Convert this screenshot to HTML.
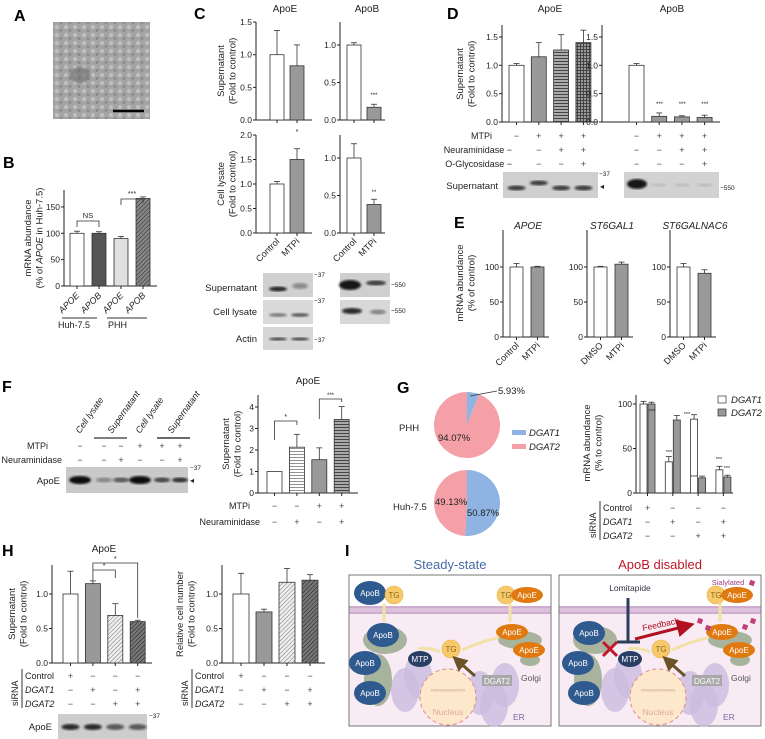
<!DOCTYPE html>
<html><head><meta charset="utf-8">
<style>
body{margin:0;background:#fff}
svg{display:block;font-family:"Liberation Sans",sans-serif}
</style></head><body>
<svg id="fig" width="765" height="739" viewBox="0 0 765 739" xmlns="http://www.w3.org/2000/svg">
<defs>
<pattern id="dots" width="2" height="2" patternUnits="userSpaceOnUse"><rect width="2" height="2" fill="#f0f0f0"/><circle cx="1" cy="1" r="0.5" fill="#999"/></pattern>
<pattern id="hdark" width="3" height="3" patternUnits="userSpaceOnUse" patternTransform="rotate(45)"><rect width="3" height="3" fill="#888"/><line x1="0" y1="0" x2="0" y2="3" stroke="#333" stroke-width="1.2"/></pattern>
<pattern id="hlines" width="4" height="3" patternUnits="userSpaceOnUse"><rect width="4" height="3" fill="#fff"/><line x1="0" y1="1.5" x2="4" y2="1.5" stroke="#888" stroke-width="0.9"/></pattern>
<pattern id="hlinesDark" width="4" height="3" patternUnits="userSpaceOnUse"><rect width="4" height="3" fill="#aaa"/><line x1="0" y1="1.5" x2="4" y2="1.5" stroke="#444" stroke-width="1"/></pattern>
<pattern id="grid" width="3" height="3" patternUnits="userSpaceOnUse"><rect width="3" height="3" fill="#999"/><path d="M0 1.5H3M1.5 0V3" stroke="#333" stroke-width="0.8"/></pattern>
<pattern id="diagLight" width="3" height="3" patternUnits="userSpaceOnUse" patternTransform="rotate(45)"><rect width="3" height="3" fill="#eee"/><line x1="0" y1="0" x2="0" y2="3" stroke="#777" stroke-width="1"/></pattern>
<pattern id="diagDark" width="3" height="3" patternUnits="userSpaceOnUse" patternTransform="rotate(45)"><rect width="3" height="3" fill="#777"/><line x1="0" y1="0" x2="0" y2="3" stroke="#222" stroke-width="1.1"/></pattern>
<pattern id="cells" width="9" height="8" patternUnits="userSpaceOnUse"><rect width="9" height="8" fill="#a4a4a4"/><circle cx="3" cy="3" r="2" fill="#c0c0c0"/><circle cx="7" cy="6.5" r="1.5" fill="#8a8a8a"/></pattern>
<filter id="blur"><feGaussianBlur stdDeviation="1.1"/></filter>
<marker id="arrRed" markerWidth="6" markerHeight="6" refX="3" refY="3" orient="auto"><path d="M0 0L6 3L0 6Z" fill="#b01020"/></marker>
<marker id="arrBrown" markerWidth="5" markerHeight="5" refX="2.5" refY="2.5" orient="auto"><path d="M0 0L5 2.5L0 5Z" fill="#6b5326"/></marker>
</defs>

<g font-weight="bold" font-size="16" fill="#000">
<text x="14" y="21">A</text>
<text x="3" y="168">B</text>
<text x="194" y="19">C</text>
<text x="447" y="19">D</text>
<text x="454" y="228">E</text>
<text x="2" y="392">F</text>
<text x="397" y="393">G</text>
<text x="2" y="556">H</text>
<text x="345" y="556">I</text>
</g>

<rect x="53" y="22" width="97" height="97" fill="url(#cells)"/>
<ellipse cx="80" cy="75" rx="10" ry="8" fill="#707070" opacity="0.6" filter="url(#blur)"/>
<line x1="113" y1="111" x2="144" y2="111" stroke="#000" stroke-width="2.5"/>

<g id="charts" font-size="9" fill="#222"></g>
<g id="panelI"></g>
</svg>

<script>
// ---------- data ----------
const bCats = ["APOE","APOB","APOE","APOB"];
const bVals = [100, 100, 90, 166];
const bErrs = [4, 3, 4, 3];
const bTicks = [0, 50, 100, 150];

const cCats = ["Control","MTPi"];
const cApoESup = [1.0, 0.83];
const cApoESupErr = [0.37, 0.32];
const cApoBSup = [1.0, 0.17];
const cApoBSupErr = [0.03, 0.04];
const cApoELys = [1.0, 1.5];
const cApoELysErr = [0.05, 0.22];
const cApoBLys = [1.0, 0.38];
const cApoBLysErr = [0.19, 0.07];
const cTicksSupE = [0, 0.5, 1.0, 1.5];
const cTicksB = [0, 0.5, 1.0];
const cTicksLysE = [0, 0.5, 1.0, 1.5, 2.0];

const dApoE = [1.0, 1.15, 1.27, 1.4];
const dApoEErr = [0.03, 0.25, 0.27, 0.22];
const dApoB = [1.0, 0.10, 0.09, 0.08];
const dApoBErr = [0.03, 0.06, 0.02, 0.04];
const dTicks = [0, 0.5, 1.0, 1.5];
const dMTPi = ["−","+","+","+"];
const dNeur = ["−","−","+","+"];
const dOGly = ["−","−","−","+"];

const eTitles = ["APOE","ST6GAL1","ST6GALNAC6"];
const eCats = [["Control","MTPi"],["DMSO","MTPi"],["DMSO","MTPi"]];
const eVals = [[100, 100],[100, 104],[100, 91]];
const eErrs = [[5, 1],[1, 3],[5, 5]];
const eTicks = [0, 50, 100];

const fVals = [1.0, 2.13, 1.55, 3.42];
const fErrs = [0.0, 0.6, 0.55, 0.6];
const fTicks = [0, 1, 2, 3, 4];
const fMTPi = ["−","−","+","+"];
const fNeur = ["−","+","−","+"];
const fBlotMTPi = ["−","−","−","+","+","+"];
const fBlotNeur = ["−","−","+","−","−","+"];
const fBandIntensity = [1.0, 0.35, 0.6, 1.0, 0.7, 0.8];

const gPieLabels = ["DGAT1","DGAT2"];
const gPiePHH = [5.93, 94.07];
const gPieHuh = [50.87, 49.13];
const gDGAT1 = [100, 35, 83, 26];
const gDGAT1Err = [3, 6, 5, 4];
const gDGAT2 = [100, 82, 17, 18];
const gDGAT2Err = [2, 5, 2, 2];
const gTicks = [0, 50, 100];

const hVals = [1.0, 1.15, 0.69, 0.60];
const hErrs = [0.33, 0.04, 0.17, 0.02];
const hCell = [1.0, 0.74, 1.17, 1.20];
const hCellErr = [0.3, 0.04, 0.2, 0.08];
const hTicks = [0, 0.5, 1.0];
const siControl = ["+","−","−","−"];
const siDGAT1 = ["−","+","−","+"];
const siDGAT2 = ["−","−","+","+"];

// ---------- helpers ----------
const NS = "http://www.w3.org/2000/svg";
const root = document.getElementById("charts");
function mk(tag, attrs, name, parent) {
  const e = document.createElementNS(NS, tag);
  for (const k in attrs) e.setAttribute(k, attrs[k]);
  
  
  (parent || root).appendChild(e);
  return e;
}
function txt(x, y, s, name, extra, parent) {
  const a = Object.assign({x: x, y: y}, extra || {});
  const e = mk("text", a, name, parent);
  e.textContent = s;
  return e;
}

function barChart(p) {
  const g = mk("g", {}, p.name);
  const y = v => p.bot - v * p.ppu;
  if (!p.noAxis) {
    mk("line", {x1: p.ax, y1: p.top, x2: p.ax, y2: p.bot, stroke: "#222", "stroke-width": 1}, "y-axis", g);
    mk("line", {x1: p.ax, y1: p.bot, x2: p.xEnd, y2: p.bot, stroke: "#222", "stroke-width": 1}, "x-axis", g);
    p.ticks.forEach((t, i) => {
      mk("line", {x1: p.ax - 3, y1: y(t), x2: p.ax, y2: y(t), stroke: "#222"}, "y-tick", g);
      txt(p.ax - 4, y(t) + 3, p.tickLabels ? p.tickLabels[i] : String(t), "y-tick-label", {"text-anchor": "end", "font-size": 8.5}, g);
    });
  }
  p.vals.forEach((v, i) => {
    const bx = p.x0 + i * p.step;
    const cx = bx + p.w / 2;
    mk("rect", {x: bx, y: y(v), width: p.w, height: v * p.ppu, fill: p.fills[i], stroke: "#333", "stroke-width": 0.8}, "bar-" + (i + 1), g);
    if (p.errs && p.errs[i] > 0) {
      mk("line", {x1: cx, y1: y(v), x2: cx, y2: y(v + p.errs[i]), stroke: "#333", "stroke-width": 0.8}, "error-bar", g);
      mk("line", {x1: cx - 3, y1: y(v + p.errs[i]), x2: cx + 3, y2: y(v + p.errs[i]), stroke: "#333", "stroke-width": 0.8}, "error-cap", g);
    }
    if (!p.noTicks) mk("line", {x1: (p.tickAt ? p.tickAt(i) : cx), y1: p.bot, x2: (p.tickAt ? p.tickAt(i) : cx), y2: p.bot + 3, stroke: "#222"}, "x-tick", g);
  });
  return g;
}
function yTitle(cx, cy, lines, name, size) {
  const g = mk("g", {transform: "translate(" + cx + "," + cy + ") rotate(-90)"}, name);
  lines.forEach((l, i) => {
    const t = txt(0, i * 11.5, "", "axis-title-line", {"text-anchor": "middle", "font-size": size || 9.5}, g);
    t.innerHTML = l;
  });
}
function rotLabels(xs, y, labels, name, italic) {
  labels.forEach((l, i) => {
    txt(xs[i] + 3, y, l, name, {"text-anchor": "end", "font-size": 9, transform: "rotate(-45 " + (xs[i] + 3) + " " + y + ")", "font-style": italic ? "italic" : "normal"});
  });
}
function signRow(label, lx, y, xs, signs, name, italic) {
  if (label) txt(lx, y, label, name + "-label", {"text-anchor": "end", "font-size": 9, "font-style": italic ? "italic" : "normal"});
  signs.forEach((s, i) => txt(xs[i], y, s, name + "-sign", {"text-anchor": "middle", "font-size": 9, fill: "#444"}));
}
function siRow(label, lx, y, xs, signs, name) {
  txt(lx, y, label, name + "-label", {"font-size": 9, "font-style": label === "Control" ? "normal" : "italic"});
  signs.forEach((s, i) => txt(xs[i], y, s, name + "-sign", {"text-anchor": "middle", "font-size": 9, fill: "#444"}));
}
function blot(x, y, w, h, name, bg) {
  mk("rect", {x: x, y: y, width: w, height: h, fill: bg || "#d4d4d4"}, name);
}
function band(cx, cy, rx, ry, dark, name) {
  mk("ellipse", {cx: cx, cy: cy, rx: rx, ry: ry, fill: "#111", opacity: dark, filter: "url(#blur)"}, name);
}
function centers(x0, step, w, n){ const a=[]; for(let i=0;i<n;i++) a.push(x0+i*step+w/2); return a; }

// ---------- Panel B ----------
barChart({name: "chart-b", ax: 64, bot: 286, top: 190, ppu: 0.527, ticks: bTicks, xEnd: 157, x0: 70, step: 22, w: 14, vals: bVals, errs: bErrs, fills: ["#fff", "#555", "url(#dots)", "url(#hdark)"]});
yTitle(31, 238, ["mRNA abundance", "(% of <tspan font-style='italic'>APOE</tspan> in Huh-7.5)"], "y-axis-title-b");
rotLabels(centers(70, 22, 14, 4), 296, bCats, "x-label-b", true);
mk("line", {x1: 62, y1: 318, x2: 97, y2: 318, stroke: "#333"}, "group-line-huh");
mk("line", {x1: 107, y1: 318, x2: 147, y2: 318, stroke: "#333"}, "group-line-phh");
txt(58, 328, "Huh-7.5", "group-label-huh", {"font-size": 9});
txt(108, 328, "PHH", "group-label-phh", {"font-size": 9});
mk("path", {d: "M77 227V221H99V227", fill: "none", stroke: "#333", "stroke-width": 0.8}, "bracket-ns");
txt(88, 218, "NS", "sig-ns", {"text-anchor": "middle", "font-size": 7.5});
mk("path", {d: "M121 205V199H143V203", fill: "none", stroke: "#333", "stroke-width": 0.8}, "bracket-b");
txt(132, 196, "***", "sig-b", {"text-anchor": "middle", "font-size": 7});

// ---------- Panel C ----------
txt(285, 12, "ApoE", "title-c-apoe", {"text-anchor": "middle", "font-size": 10});
txt(367, 12, "ApoB", "title-c-apob", {"text-anchor": "middle", "font-size": 10});
barChart({name: "chart-c-apoe-sup", ax: 256, bot: 120, top: 22, ppu: 65.3, ticks: cTicksSupE, tickLabels: ["0.0","0.5","1.0","1.5"], xEnd: 312, x0: 270, step: 20, w: 14, vals: cApoESup, errs: cApoESupErr, fills: ["#fff", "#999"]});
barChart({name: "chart-c-apob-sup", ax: 340, bot: 120, top: 22, ppu: 75, ticks: cTicksB, tickLabels: ["0.0","0.5","1.0"], xEnd: 385, x0: 347, step: 20, w: 14, vals: cApoBSup, errs: cApoBSupErr, fills: ["#fff", "#999"]});
barChart({name: "chart-c-apoe-lys", ax: 256, bot: 233, top: 135, ppu: 49, ticks: cTicksLysE, tickLabels: ["0.0","0.5","1.0","1.5","2.0"], xEnd: 312, x0: 270, step: 20, w: 14, vals: cApoELys, errs: cApoELysErr, fills: ["#fff", "#999"]});
barChart({name: "chart-c-apob-lys", ax: 340, bot: 233, top: 135, ppu: 75, ticks: cTicksB, tickLabels: ["0.0","0.5","1.0"], xEnd: 385, x0: 347, step: 20, w: 14, vals: cApoBLys, errs: cApoBLysErr, fills: ["#fff", "#999"]});
txt(374, 97, "***", "sig-c1", {"text-anchor": "middle", "font-size": 6});
txt(297, 134, "*", "sig-c2", {"text-anchor": "middle", "font-size": 7});
txt(374, 194, "**", "sig-c3", {"text-anchor": "middle", "font-size": 6});
yTitle(224, 71, ["Supernatant", "(Fold to control)"], "y-axis-title-c-sup");
yTitle(224, 184, ["Cell lysate", "(Fold to control)"], "y-axis-title-c-lys");
rotLabels(centers(270, 20, 14, 2), 242, cCats, "x-label-c-apoe");
rotLabels(centers(347, 20, 14, 2), 242, cCats, "x-label-c-apob");
blot(263, 273, 50, 24, "blot-c-apoe-sup", "#d0d0d0");
band(278, 289, 9, 2.5, 0.85, "band"); band(300, 286, 8, 3, 0.35, "band");
blot(263, 300, 50, 24, "blot-c-apoe-lys", "#dadada");
band(278, 315, 9, 2, 0.45, "band"); band(300, 315, 9, 2, 0.6, "band");
blot(263, 327, 50, 23, "blot-c-actin", "#d6d6d6");
band(278, 339, 9, 1.6, 0.7, "band"); band(300, 339, 9, 1.6, 0.7, "band");
blot(340, 273, 50, 24, "blot-c-apob-sup", "#cfcfcf");
band(350, 285, 11, 5, 0.95, "band"); band(376, 283, 10, 2.5, 0.75, "band");
blot(340, 300, 50, 24, "blot-c-apob-lys", "#d8d8d8");
band(352, 311, 10, 3, 0.85, "band"); band(378, 312, 8, 2.5, 0.4, "band");
txt(257, 291, "Supernatant", "blot-label-sup", {"text-anchor": "end", "font-size": 9.5});
txt(257, 315, "Cell lysate", "blot-label-lys", {"text-anchor": "end", "font-size": 9.5});
txt(257, 342, "Actin", "blot-label-actin", {"text-anchor": "end", "font-size": 9.5});
txt(314, 277, "−37", "mw-37", {"font-size": 6.5});
txt(314, 303, "−37", "mw-37", {"font-size": 6.5});
txt(314, 342, "−37", "mw-37", {"font-size": 6.5});
txt(391, 287, "−550", "mw-550", {"font-size": 6.5});
txt(391, 313, "−550", "mw-550", {"font-size": 6.5});

// ---------- Panel D ----------
txt(550, 12, "ApoE", "title-d-apoe", {"text-anchor": "middle", "font-size": 10});
txt(672, 12, "ApoB", "title-d-apob", {"text-anchor": "middle", "font-size": 10});
barChart({name: "chart-d-apoe", ax: 502, bot: 122, top: 25, ppu: 56.7, ticks: dTicks, tickLabels: ["0.0","0.5","1.0","1.5"], xEnd: 598, x0: 509, step: 22.3, w: 15, vals: dApoE, errs: dApoEErr, fills: ["#fff", "#999", "url(#hlinesDark)", "url(#grid)"]});
barChart({name: "chart-d-apob", ax: 602, bot: 122, top: 25, ppu: 56.7, ticks: dTicks, tickLabels: ["0.0","0.5","1.0","1.5"], xEnd: 720, x0: 629, step: 22.7, w: 15, vals: dApoB, errs: dApoBErr, fills: ["#fff", "#999", "#999", "#999"]});
[659.5, 682.2, 704.9].forEach(x => txt(x, 106, "***", "sig-d", {"text-anchor": "middle", "font-size": 6}));
yTitle(463, 74, ["Supernatant", "(Fold to control)"], "y-axis-title-d");
const dXE = centers(509, 22.3, 15, 4), dXB = centers(629, 22.7, 15, 4);
signRow("MTPi", 492, 139, dXE, dMTPi, "row-d-mtpi"); signRow(null, 0, 139, dXB, dMTPi, "row-d-mtpi-b");
signRow("Neuraminidase −", 512, 153, [-99, dXE[1], dXE[2], dXE[3]], ["", dNeur[1], dNeur[2], dNeur[3]], "row-d-neur"); signRow(null, 0, 153, dXB, dNeur, "row-d-neur-b");
signRow("O-Glycosidase −", 512, 167, [-99, dXE[1], dXE[2], dXE[3]], ["", dOGly[1], dOGly[2], dOGly[3]], "row-d-oglyc"); signRow(null, 0, 167, dXB, dOGly, "row-d-oglyc-b");
blot(503, 172, 95, 26, "blot-d-apoe", "#cfcfcf");
dXE.forEach((x, i) => band(x, i === 1 ? 183 : 188, 9, 2.5, 0.75, "band"));
blot(624, 172, 95, 26, "blot-d-apob", "#d2d2d2");
band(637, 184, 10, 5, 0.95, "band");
[659, 682, 705].forEach(x => band(x, 185, 8, 1.5, 0.12, "band"));
txt(498, 189, "Supernatant", "blot-label-d", {"text-anchor": "end", "font-size": 9.5});
txt(599, 176, "−37", "mw-37", {"font-size": 6.5});
txt(600, 189, "◂", "band-arrow", {"font-size": 8});
txt(720, 190, "−550", "mw-550", {"font-size": 6.5});

// ---------- Panel E ----------
const eAx = [503, 587, 670];
eAx.forEach((ax, k) => {
  txt(ax + 25, 229, eTitles[k], "title-e", {"text-anchor": "middle", "font-size": 10, "font-style": "italic"});
  barChart({name: "chart-e-" + (k + 1), ax: ax, bot: 337, top: 230, ppu: 0.7, ticks: eTicks, xEnd: ax + 46, x0: ax + 7, step: 21, w: 13, vals: eVals[k], errs: eErrs[k], fills: ["#fff", "#999"]});
  rotLabels(centers(ax + 7, 21, 13, 2), 346, eCats[k], "x-label-e");
});
yTitle(463, 283, ["mRNA abundance", "(% of control)"], "y-axis-title-e");

// ---------- Panel F ----------
const fCols = [80, 104, 121, 140, 162, 180];
["Cell lysate", "Supernatant", "Cell lysate", "Supernatant"].forEach((l, i) => {
  const x = [80, 112, 140, 172][i];
  txt(x, 434, l, "lane-label-f", {"font-size": 9, "font-style": "italic", transform: "rotate(-55 " + x + " 434)"});
});
mk("line", {x1: 94, y1: 438, x2: 127, y2: 438, stroke: "#333", "stroke-width": 1.2}, "lane-line");
mk("line", {x1: 157, y1: 438, x2: 190, y2: 438, stroke: "#111", "stroke-width": 1.2}, "lane-line");
signRow("MTPi", 48, 449, fCols, fBlotMTPi, "row-f-mtpi");
signRow("Neuraminidase", 62, 463, fCols, fBlotNeur, "row-f-neur");
blot(66, 467, 122, 26, "blot-f", "#c9c9c9");
fCols.forEach((x, i) => band(x, 480, fBandIntensity[i] > 0.9 ? 11 : 8, fBandIntensity[i] > 0.9 ? 4 : 2.5, fBandIntensity[i], "band"));
txt(60, 484, "ApoE", "blot-label-f", {"text-anchor": "end", "font-size": 9.5});
txt(190, 470, "−37", "mw-37", {"font-size": 6.5});
txt(190, 483, "◂", "band-arrow", {"font-size": 8});
txt(308, 384, "ApoE", "title-f", {"text-anchor": "middle", "font-size": 10});
barChart({name: "chart-f", ax: 258, bot: 493, top: 395, ppu: 21.5, ticks: fTicks, xEnd: 358, x0: 267, step: 22.4, w: 15, vals: fVals, errs: fErrs, fills: ["#fff", "url(#hlines)", "#999", "url(#hlinesDark)"]});
yTitle(229, 444, ["Supernatant", "(Fold to control)"], "y-axis-title-f");
const fX = centers(267, 22.4, 15, 4);
signRow("MTPi", 250, 509, fX, fMTPi, "row-f2-mtpi");
signRow("Neuraminidase", 260, 525, fX, fNeur, "row-f2-neur");
mk("path", {d: "M" + fX[0] + " 440V421H" + fX[1] + "V425", fill: "none", stroke: "#333", "stroke-width": 0.8}, "bracket-f1");
txt((fX[0] + fX[1]) / 2, 419, "*", "sig-f1", {"text-anchor": "middle", "font-size": 7});
mk("path", {d: "M" + fX[2] + " 419V399H" + fX[3] + "V402", fill: "none", stroke: "#333", "stroke-width": 0.8}, "bracket-f2");
txt((fX[2] + fX[3]) / 2, 397, "***", "sig-f2", {"text-anchor": "middle", "font-size": 6});

// ---------- Panel G pies ----------
const pieColors = ["#8fb4e3", "#f4a0a6"];
function pie(cx, cy, r, vals, startDeg, name) {
  const g = mk("g", {}, name);
  let a = startDeg;
  const tot = vals.reduce((s, v) => s + v, 0);
  vals.forEach((v, i) => {
    const a2 = a + v / tot * 360;
    const p = d => [cx + r * Math.sin(d * Math.PI / 180), cy - r * Math.cos(d * Math.PI / 180)];
    const s = p(a), e = p(a2);
    mk("path", {d: "M" + cx + " " + cy + "L" + s[0] + " " + s[1] + "A" + r + " " + r + " 0 " + (a2 - a > 180 ? 1 : 0) + " 1 " + e[0] + " " + e[1] + "Z", fill: pieColors[i]}, "slice-" + gPieLabels[i].toLowerCase(), g);
    a = a2;
  });
}
pie(467, 425, 33, gPiePHH, 0, "pie-phh");
pie(467, 503, 33, gPieHuh, 0, "pie-huh");
txt(399, 431, "PHH", "pie-label-phh", {"font-size": 9.5});
txt(393, 510, "Huh-7.5", "pie-label-huh", {"font-size": 9.5});
txt(438, 441, gPiePHH[1].toFixed(2) + "%", "pct-phh-dgat2", {"font-size": 9.5});
mk("line", {x1: 470, y1: 396, x2: 497, y2: 391, stroke: "#333", "stroke-width": 0.7}, "leader-line");
txt(498, 394, gPiePHH[0].toFixed(2) + "%", "pct-phh-dgat1", {"font-size": 9.5});
txt(435, 505, gPieHuh[1].toFixed(2) + "%", "pct-huh-dgat2", {"font-size": 9.5});
txt(467, 516, gPieHuh[0].toFixed(2) + "%", "pct-huh-dgat1", {"font-size": 9.5});
gPieLabels.forEach((l, i) => {
  mk("rect", {x: 512, y: 430 + i * 14, width: 14, height: 5, fill: pieColors[i]}, "legend-swatch-" + l.toLowerCase());
  txt(529, 436 + i * 14, l, "legend-entry-" + l.toLowerCase(), {"font-size": 9.5, "font-style": "italic"});
});

// ---------- Panel G bars ----------
barChart({name: "chart-g-dgat1", ax: 636, bot: 493, top: 395, ppu: 0.89, ticks: gTicks, xEnd: 733, x0: 640, step: 25.3, w: 7, vals: gDGAT1, errs: gDGAT1Err, fills: ["#fff","#fff","#fff","#fff"], tickAt: i => 647.5 + i * 25.3});
barChart({name: "chart-g-dgat2", ax: 636, bot: 493, top: 395, ppu: 0.89, ticks: gTicks, xEnd: 733, x0: 648, step: 25.3, w: 7, vals: gDGAT2, errs: gDGAT2Err, fills: ["#999","#999","#999","#999"], noAxis: true, noTicks: true});
yTitle(590, 443, ["mRNA abundance", "(% to control)"], "y-axis-title-g");
mk("rect", {x: 718, y: 396, width: 8, height: 7, fill: "#fff", stroke: "#333", "stroke-width": 0.7}, "legend-swatch-g-dgat1");
txt(731, 403, "DGAT1", "legend-entry-g-dgat1", {"font-size": 9.5, "font-style": "italic"});
mk("rect", {x: 718, y: 409, width: 8, height: 7, fill: "#999", stroke: "#333", "stroke-width": 0.7}, "legend-swatch-g-dgat2");
txt(731, 416, "DGAT2", "legend-entry-g-dgat2", {"font-size": 9.5, "font-style": "italic"});
[[652, 413],[669, 454],[687, 416],[694, 479],[719, 461],[727, 470]].forEach(s => txt(s[0], s[1], "***", "sig-g", {"text-anchor": "middle", "font-size": 5.5}));
const gX = [647.5, 672.8, 698.1, 723.4];
txt(596, 538, "siRNA", "sirna-label-g", {"font-size": 9, transform: "rotate(-90 596 538)"});
mk("line", {x1: 600, y1: 501, x2: 600, y2: 540, stroke: "#333"}, "sirna-bracket");
siRow("Control", 603, 511, gX, siControl, "row-g-control");
siRow("DGAT1", 603, 525, gX, siDGAT1, "row-g-dgat1");
siRow("DGAT2", 603, 539, gX, siDGAT2, "row-g-dgat2");

// ---------- Panel H ----------
txt(104, 552, "ApoE", "title-h", {"text-anchor": "middle", "font-size": 10});
barChart({name: "chart-h-apoe", ax: 52, bot: 663, top: 565, ppu: 69, ticks: hTicks, tickLabels: ["0.0","0.5","1.0"], xEnd: 152, x0: 63, step: 22.4, w: 15, vals: hVals, errs: hErrs, fills: ["#fff", "#999", "url(#diagLight)", "url(#diagDark)"]});
barChart({name: "chart-h-cells", ax: 222, bot: 663, top: 565, ppu: 69, ticks: hTicks, tickLabels: ["0.0","0.5","1.0"], xEnd: 325, x0: 233, step: 23, w: 16, vals: hCell, errs: hCellErr, fills: ["#fff", "#999", "url(#diagLight)", "url(#diagDark)"]});
yTitle(15, 614, ["Supernatant", "(Fold to control)"], "y-axis-title-h1");
yTitle(183, 614, ["Relative cell number", "(Fold to control)"], "y-axis-title-h2");
const hX1 = centers(63, 22.4, 15, 4), hX2 = centers(233, 23, 16, 4);
mk("path", {d: "M" + hX1[1] + " 581V570H" + hX1[2] + "V578", fill: "none", stroke: "#333", "stroke-width": 0.8}, "bracket-h1");
txt((hX1[1] + hX1[2]) / 2, 568, "*", "sig-h1", {"text-anchor": "middle", "font-size": 7});
mk("path", {d: "M" + hX1[1] + " 570V563H" + hX1[3] + "V618", fill: "none", stroke: "#333", "stroke-width": 0.8}, "bracket-h2");
txt((hX1[1] + hX1[3]) / 2, 561, "*", "sig-h2", {"text-anchor": "middle", "font-size": 7});
[[18, 25, hX1, "h1"], [188, 195, hX2, "h2"]].forEach(c => {
  txt(c[0], 706, "siRNA", "sirna-label-" + c[3], {"font-size": 9, transform: "rotate(-90 " + c[0] + " 706)"});
  mk("line", {x1: c[0] + 4, y1: 669, x2: c[0] + 4, y2: 708, stroke: "#333"}, "sirna-bracket");
  siRow("Control", c[1], 679, c[2], siControl, "row-" + c[3] + "-control");
  siRow("DGAT1", c[1], 693, c[2], siDGAT1, "row-" + c[3] + "-dgat1");
  siRow("DGAT2", c[1], 707, c[2], siDGAT2, "row-" + c[3] + "-dgat2");
});
blot(58, 714, 89, 25, "blot-h", "#cdcdcd");
hX1.forEach((x, i) => { band(x, 727, 9, 3, i < 2 ? 0.85 : 0.6, "band"); });
txt(52, 730, "ApoE", "blot-label-h", {"text-anchor": "end", "font-size": 9.5});
txt(149, 718, "−37", "mw-37", {"font-size": 6.5});

// ---------- Panel I ----------
const pI = document.getElementById("panelI");
function cell(ox, disabled) {
  const g = mk("g", {transform: "translate(" + ox + ",0)"}, disabled ? "diagram-apob-disabled" : "diagram-steady-state", pI);
  mk("rect", {x: 349, y: 575, width: 202, height: 151, fill: "#fff", stroke: "#777", "stroke-width": 1}, "cell-box", g);
  mk("rect", {x: 349.5, y: 614, width: 201, height: 111.5, fill: "#f8ebf3"}, "cytoplasm", g);
  mk("rect", {x: 349.5, y: 606, width: 201, height: 8, fill: "#dcc0dc"}, "membrane", g);
  mk("line", {x1: 349.5, y1: 607, x2: 550.5, y2: 607, stroke: "#b48ab4", "stroke-width": 0.8}, "membrane-line", g);
  mk("line", {x1: 349.5, y1: 613, x2: 550.5, y2: 613, stroke: "#b48ab4", "stroke-width": 0.8}, "membrane-line", g);
  [[405,690],[418,676],[480,693],[494,705],[505,685]].forEach(p => mk("ellipse", {cx: p[0], cy: p[1], rx: 14, ry: 22, fill: "#cbbbe0", opacity: 0.8}, "er", g));
  [[385,640,22,14],[378,680,14,26],[520,640,22,9],[530,660,10,6]].forEach(p => mk("ellipse", {cx: p[0], cy: p[1], rx: p[2], ry: p[3], fill: "#9aa98e", opacity: 0.85}, "golgi-membrane", g));
  mk("circle", {cx: 448, cy: 697, r: 28, fill: "#fde8cc", stroke: "#e08a8a", "stroke-dasharray": "4 3", "stroke-width": 1}, "nucleus", g);
  txt(448, 692, "∞∞∞∞∞∞∞∞", "dna", {"text-anchor": "middle", "font-size": 6, fill: "#c8a090"}, g);
  txt(448, 715, "Nucleus", "nucleus-label", {"text-anchor": "middle", "font-size": 8.5, fill: "#e0a8a0"}, g);
  txt(521, 681, "Golgi", "golgi-label", {"font-size": 8.5, fill: "#555"}, g);
  txt(513, 720, "ER", "er-label", {"font-size": 8.5, fill: "#7a6aa0"}, g);
  const apobs = disabled ? [[379,633],[368,663],[374,693]] : [[370,593],[383,635],[365,663],[370,693]];
  apobs.forEach(p => {
    mk("ellipse", {cx: p[0], cy: p[1], rx: 16, ry: 12, fill: "#2f5a8f"}, "apob-particle", g);
    txt(p[0], p[1] + 3, "ApoB", "apob-label", {"text-anchor": "middle", "font-size": 8, fill: "#fff"}, g);
  });
  const tgs = disabled ? [[451,649],[506,595]] : [[394,595],[451,649],[506,595]];
  tgs.forEach(p => {
    mk("circle", {cx: p[0], cy: p[1], r: 9, fill: "#f7c96b", stroke: "#e8b04a", "stroke-width": 0.6}, "tg-droplet", g);
    txt(p[0], p[1] + 3, "TG", "tg-label", {"text-anchor": "middle", "font-size": 8, fill: "#8a6a20"}, g);
  });
  [[527,595],[512,632],[529,650]].forEach(p => {
    mk("ellipse", {cx: p[0], cy: p[1], rx: 16, ry: 8, fill: "#e07a10"}, "apoe-particle", g);
    txt(p[0], p[1] + 3, "ApoE", "apoe-label", {"text-anchor": "middle", "font-size": 8, fill: "#fff"}, g);
  });
  mk("ellipse", {cx: 420, cy: 659, rx: 12, ry: 8, fill: "#2a3f66"}, "mtp", g);
  txt(420, 662, "MTP", "mtp-label", {"text-anchor": "middle", "font-size": 8, fill: "#fff"}, g);
  mk("rect", {x: 482, y: 675, width: 30, height: 11, fill: "#a8a8a8"}, "dgat2-box", g);
  txt(497, 684, "DGAT2", "dgat2-label", {"text-anchor": "middle", "font-size": 8, fill: "#fff"}, g);
  mk("line", {x1: 475, y1: 676, x2: 458, y2: 661, stroke: "#6b5326", "stroke-width": 3, "marker-end": "url(#arrBrown)"}, "dgat2-arrow", g);
  mk("path", {d: "M462 650Q485 640 498 638", fill: "none", stroke: "#f3e2a8", "stroke-width": 3}, "tg-arrow", g);
  mk("path", {d: "M440 652Q430 647 418 649", fill: "none", stroke: "#f3e2a8", "stroke-width": 3}, "tg-arrow", g);
  mk("path", {d: "M510 622V603", fill: "none", stroke: "#f3e2a8", "stroke-width": 3}, "secretion-arrow", g);
  if (!disabled) mk("path", {d: "M384 622V604", fill: "none", stroke: "#f3e2a8", "stroke-width": 3}, "secretion-arrow", g);
}
cell(0, false);
cell(210, true);
txt(450, 569, "Steady-state", "title-steady-state", {"text-anchor": "middle", "font-size": 13, fill: "#4a6aa5"}, pI);
txt(660, 569, "ApoB disabled", "title-apob-disabled", {"text-anchor": "middle", "font-size": 13, fill: "#c0182a"}, pI);
txt(630, 591, "Lomitapide", "lomitapide-label", {"text-anchor": "middle", "font-size": 8.5, fill: "#334"}, pI);
mk("path", {d: "M628 598V642M617 642H640", stroke: "#2c3e5c", "stroke-width": 3, fill: "none"}, "inhibition-bar", pI);
mk("path", {d: "M603 642L617 656M617 642L603 656", stroke: "#c0182a", "stroke-width": 3}, "block-mark", pI);
mk("line", {x1: 635, y1: 639, x2: 686, y2: 626, stroke: "#b01020", "stroke-width": 3, "marker-end": "url(#arrRed)"}, "feedback-arrow", pI);
txt(643, 631, "Feedback", "feedback-label", {"font-size": 8.5, fill: "#b01020", transform: "rotate(-12 643 631)"}, pI);
txt(728, 585, "Sialylated", "sialylated-label", {"text-anchor": "middle", "font-size": 7.5, fill: "#a04080"}, pI);
[[752,583],[700,621],[708,628],[745,627],[753,621]].forEach(p => mk("rect", {x: p[0] - 2.5, y: p[1] - 2.5, width: 5, height: 5, fill: "#c0407a", transform: "rotate(20 " + p[0] + " " + p[1] + ")"}, "sialic-acid", pI));
</script>
</body></html>
